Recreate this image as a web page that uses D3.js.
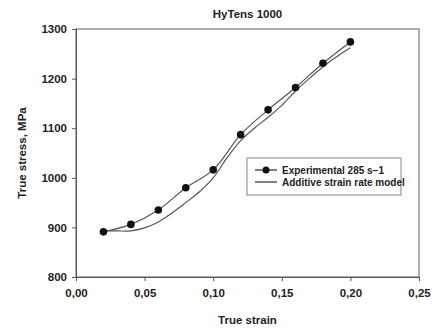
<!DOCTYPE html>
<html>
  <head>
    <meta charset="UTF-8">
    <style>
      body { margin: 0; background: #fff; font-family: 'Liberation Sans', Arial, sans-serif; }
      .tick text { font-size: 11.5px; font-weight: bold; fill: #222; }
      .label { font-size: 11.5px; font-weight: bold; fill: #222; }
    </style>
    <script src="https://d3js.org/d3.v7.min.js"></script>
  </head>
  <body>
    <svg id="chart"></svg>
    <script type="text/javascript">
      let expStrain = [0.02, 0.04, 0.06, 0.08, 0.10, 0.12, 0.14, 0.16, 0.18, 0.20]
      let expStress = [891, 906, 935, 980, 1016, 1087, 1137, 1182, 1231, 1274]

      let modelStrain = [0.02, 0.03, 0.04, 0.05, 0.06, 0.07, 0.08, 0.09, 0.10, 0.11, 0.12, 0.13, 0.14, 0.15, 0.16, 0.17, 0.18, 0.19, 0.20]
      let modelStress = [893, 893, 893, 899, 911, 929, 950, 972, 1000, 1040, 1075, 1100, 1122, 1146, 1175, 1200, 1224, 1244, 1262]

      let xTicks = [0, 0.05, 0.10, 0.15, 0.20, 0.25]
      let yTicks = [800, 900, 1000, 1100, 1200, 1300]
      let seriesNames = ['Experimental 285 s\u22121', 'Additive strain rate model']

      let width = 439
      let height = 328
      let margin = {top: 29, bottom: 51, left: 76, right: 20}
      let bodyWidth = width - margin.left - margin.right
      let bodyHeight = height - margin.top - margin.bottom

      let svg = d3.select('#chart')
        .attr('width', width)
        .attr('height', height)

      let xScale = d3.scaleLinear().domain([0, 0.25]).range([0, bodyWidth])
      let yScale = d3.scaleLinear().domain([800, 1300]).range([bodyHeight, 0])

      let body = svg.append('g')
        .attr('transform', `translate(${margin.left},${margin.top})`)

      body.append('rect')
        .attr('width', bodyWidth)
        .attr('height', bodyHeight)
        .attr('fill', 'none')
        .attr('stroke', '#777')
        .attr('stroke-width', 1.2)

      let axisX = d3.axisBottom(xScale)
        .tickValues(xTicks)
        .tickSize(4)
        .tickPadding(8)
        .tickFormat(d => d3.format('.2f')(d).replace('.', ','))
      let gx = body.append('g')
        .attr('transform', `translate(0,${bodyHeight})`)
        .call(axisX)
      gx.select('.domain').attr('stroke', '#555')
      gx.selectAll('.tick line').attr('stroke', '#555')

      let axisY = d3.axisLeft(yScale)
        .tickValues(yTicks)
        .tickSize(4)
        .tickPadding(5)
        .tickFormat(d3.format('d'))
      let gy = body.append('g').call(axisY)
      gy.select('.domain').attr('stroke', '#555')
      gy.selectAll('.tick line').attr('stroke', '#555')

      let model = modelStrain.map((s, i) => ({x: s, y: modelStress[i]}))
      let exp = expStrain.map((s, i) => ({x: s, y: expStress[i]}))

      let line = d3.line()
        .x(d => xScale(d.x))
        .y(d => yScale(d.y))
        .curve(d3.curveCatmullRom)

      body.append('path')
        .datum(model)
        .attr('d', line)
        .attr('fill', 'none')
        .attr('stroke', '#555')
        .attr('stroke-width', 1.2)

      body.append('path')
        .datum(exp)
        .attr('d', line)
        .attr('fill', 'none')
        .attr('stroke', '#555')
        .attr('stroke-width', 1.2)

      body.selectAll('.pt')
        .data(exp)
        .enter()
        .append('circle')
        .attr('class', 'pt')
        .attr('cx', d => xScale(d.x))
        .attr('cy', d => yScale(d.y))
        .attr('r', 3.8)
        .attr('fill', '#111')

      // legend
      let legend = svg.append('g').attr('transform', 'translate(247,158)')
      legend.append('rect')
        .attr('width', 154)
        .attr('height', 37)
        .attr('fill', '#fff')
        .attr('stroke', '#999')
        .attr('stroke-width', 1.2)
      seriesNames.forEach((name, i) => {
        let y = 12 + i * 12
        legend.append('line')
          .attr('x1', 8).attr('x2', 30)
          .attr('y1', y).attr('y2', y)
          .attr('stroke', '#555')
          .attr('stroke-width', 1.5)
        if (i == 0) {
          legend.append('circle')
            .attr('cx', 19).attr('cy', y).attr('r', 3.5).attr('fill', '#111')
        }
        legend.append('text')
          .attr('class', 'label')
          .attr('x', 35)
          .attr('y', y + 4)
          .style('font-size', '10px')
          .text(name)
      })

      svg.append('text')
        .attr('class', 'label')
        .attr('x', margin.left + bodyWidth / 2)
        .attr('y', 18)
        .attr('text-anchor', 'middle')
        .text('HyTens 1000')

      svg.append('text')
        .attr('class', 'label')
        .attr('x', margin.left + bodyWidth / 2)
        .attr('y', 324)
        .attr('text-anchor', 'middle')
        .text('True strain')

      svg.append('text')
        .attr('class', 'label')
        .attr('transform', `translate(26,${margin.top + bodyHeight / 2}) rotate(-90)`)
        .attr('text-anchor', 'middle')
        .text('True stress, MPa')
    </script>
  </body>
</html>
